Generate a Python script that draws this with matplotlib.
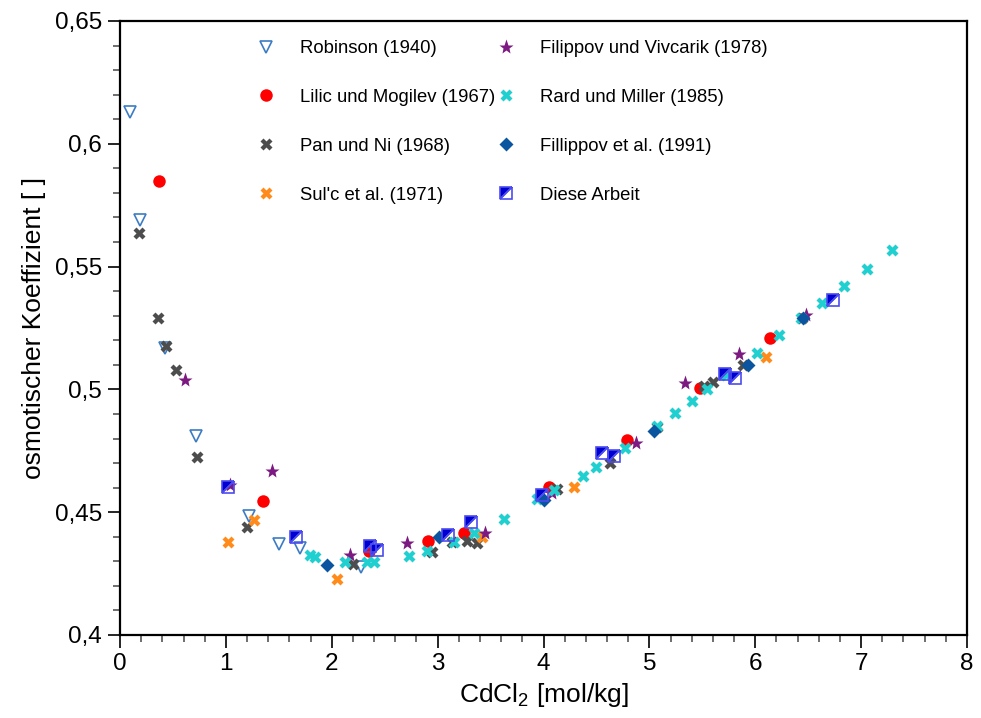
import matplotlib
matplotlib.use("Agg")
import matplotlib.pyplot as plt
from matplotlib import font_manager
from matplotlib.markers import MarkerStyle
from matplotlib.transforms import Affine2D
from matplotlib.ticker import MultipleLocator, FixedLocator, FixedFormatter

plt.rcParams['font.family'] = ['Liberation Sans', 'DejaVu Sans']
plt.rcParams['mathtext.fontset'] = 'custom'
plt.rcParams['mathtext.rm'] = 'Liberation Sans'

# ---- data ----
rob_x = [0.095, 0.19, 0.425, 0.72, 1.22, 1.50, 1.70, 2.28]
rob_y = [0.613, 0.569, 0.517, 0.481, 0.4485, 0.437, 0.4354, 0.4277]

lil_x = [0.37, 1.35, 2.35, 2.91, 3.25, 4.05, 4.79, 5.48, 6.14]
lil_y = [0.585, 0.4546, 0.434, 0.4384, 0.4417, 0.4604, 0.4794, 0.5006, 0.5208]

pan_x = [0.18, 0.36, 0.43, 0.53, 0.73, 1.20, 2.205, 2.95, 3.135, 3.28, 3.37,
         4.13, 4.63, 5.07, 5.52, 5.60, 5.88, 6.44]
pan_y = [0.5638, 0.5289, 0.5178, 0.5079, 0.4726, 0.4441, 0.4289, 0.4339, 0.438,
         0.4383, 0.4373, 0.4593, 0.4702, 0.4848, 0.5012, 0.503, 0.5099, 0.5289]

sul_x = [1.02, 1.27, 2.05, 3.42, 4.285, 6.105]
sul_y = [0.438, 0.4468, 0.4228, 0.440, 0.4604, 0.5133]

fv_x = [0.614, 1.04, 1.44, 2.17, 2.715, 3.45, 4.08, 4.87, 5.335, 5.845, 6.475]
fv_y = [0.5038, 0.4611, 0.4669, 0.4326, 0.4376, 0.4417, 0.4577, 0.4783, 0.5025,
        0.5144, 0.5303]

rard_x = [1.796, 1.843, 2.127, 2.33, 2.40, 2.725, 2.90, 3.15, 3.345, 3.63, 3.94,
          4.095, 4.373, 4.50, 4.77, 5.07, 5.24, 5.40, 5.545, 5.72, 6.02, 6.22,
          6.43, 6.63, 6.84, 7.055, 7.29]
rard_y = [0.4326, 0.4319, 0.4299, 0.4299, 0.4299, 0.4322, 0.4343, 0.438, 0.4414,
          0.4472, 0.4553, 0.459, 0.4647, 0.4685, 0.4763, 0.4851, 0.4905, 0.4953,
          0.500, 0.5059, 0.515, 0.5222, 0.5289, 0.535, 0.5421, 0.5489, 0.5568]

fil_x = [1.953, 3.01, 4.00, 5.04, 5.93, 6.45]
fil_y = [0.4285, 0.4398, 0.455, 0.4832, 0.5099, 0.5292]

die_x = [1.024, 1.66, 2.363, 2.426, 3.10, 3.315, 3.985, 4.55, 4.67, 5.71, 5.81, 6.73]
die_y = [0.4604, 0.4398, 0.4362, 0.4346, 0.4407, 0.4461, 0.457, 0.474, 0.4729,
         0.5063, 0.5045, 0.5364]

labels = ["Robinson (1940)", "Lilic und Mogilev (1967)", "Pan und Ni (1968)",
          "Sul'c et al. (1971)", "Filippov und Vivcarik (1978)",
          "Rard und Miller (1985)", "Fillippov et al. (1991)", "Diese Arbeit"]

yticks = [0.40, 0.45, 0.50, 0.55, 0.60, 0.65]
ytick_labels = ["0,4", "0,45", "0,5", "0,55", "0,6", "0,65"]
xticks = [0, 1, 2, 3, 4, 5, 6, 7, 8]

leg_font = dict(family='Liberation Sans', size=13.3)

# ---- figure ----
fig = plt.figure(figsize=(9.81, 7.18), dpi=100)
ax = fig.add_axes([120/981, 1-635/718, (967-120)/981, (635-21)/718])

handles = []
h, = ax.plot(rob_x, rob_y, ls='none', marker='v', ms=8.5, mfc='none',
             mec='#3b7cc2', mew=1.2)
handles.append(h)
h, = ax.plot(lil_x, lil_y, ls='none', marker='o', ms=9, mfc='#ff0000', mec='none')
handles.append(h)
h, = ax.plot(pan_x, pan_y, ls='none', marker='X', ms=9, mfc='#4d4d4d', mec='none')
handles.append(h)
h, = ax.plot(sul_x, sul_y, ls='none', marker='X', ms=9, mfc='#ff8c1a', mec='none')
handles.append(h)
h, = ax.plot(fv_x, fv_y, ls='none', marker='*', ms=11, mfc='#7d1a82', mec='none')
handles.append(h)
h, = ax.plot(rard_x, rard_y, ls='none', marker='X', ms=9, mfc='#20d0d0', mec='none')
handles.append(h)
h, = ax.plot(fil_x, fil_y, ls='none', marker='D', ms=7, mfc='#0a54a0', mec='none')
handles.append(h)
half_sq = MarkerStyle('D', fillstyle='left', transform=Affine2D().rotate_deg(-45))
h, = ax.plot(die_x, die_y, ls='none', marker=half_sq, ms=9, mfc='#0000d0',
             mfcalt='none', mec='#4b4bef', mew=1.2)
handles.append(h)

ax.set_xlim(0, 8)
ax.set_ylim(0.4, 0.65)
ax.xaxis.set_major_locator(FixedLocator(xticks))
ax.xaxis.set_minor_locator(MultipleLocator(0.2))
ax.yaxis.set_major_locator(FixedLocator(yticks))
ax.yaxis.set_major_formatter(FixedFormatter(ytick_labels))
ax.yaxis.set_minor_locator(MultipleLocator(0.01))

for s in ax.spines.values():
    s.set_linewidth(1.6)
ax.tick_params(which='major', direction='out', length=9, width=1.2,
               labelsize=17.5, colors='black', pad=4)
ax.tick_params(which='minor', direction='out', length=5, width=1.2, color='#555555')

ax.set_xlabel(r"CdCl$_2$ [mol/kg]", fontsize=19, labelpad=4)
ax.set_ylabel("osmotischer Koeffizient [ ]", fontsize=19, labelpad=6)

sc = 13.5 / leg_font['size']
leg_kw = dict(loc='upper left', frameon=False, prop=leg_font, handlelength=1.0 * sc,
              handletextpad=1.3 * sc, labelspacing=1.7 * sc,
              borderpad=0, borderaxespad=0)
leg1 = fig.legend(handles[:4], labels[:4], bbox_to_anchor=(257/981, 1-40/718), **leg_kw)
leg2 = fig.legend(handles[4:], labels[4:], bbox_to_anchor=(497/981, 1-40/718), **leg_kw)

fig.savefig("out.png", dpi=100)
